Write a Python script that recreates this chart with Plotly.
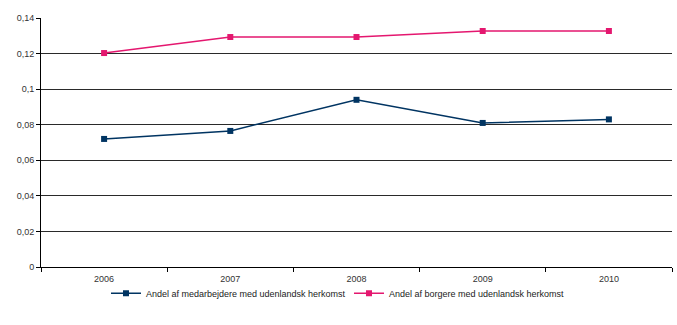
import plotly.graph_objects as go

years = ["2006", "2007", "2008", "2009", "2010"]
medarbejdere = [0.072, 0.0765, 0.094, 0.081, 0.083]
borgere = [0.1203, 0.1293, 0.1293, 0.1327, 0.1327]
y_ticks = [0, 0.02, 0.04, 0.06, 0.08, 0.1, 0.12, 0.14]
y_labels = ["0", "0,02", "0,04", "0,06", "0,08", "0,1", "0,12", "0,14"]

blue = "#003462"
pink = "#e4176f"

fig = go.Figure()
fig.add_trace(go.Scatter(
    x=years, y=medarbejdere, mode="lines+markers",
    name="Andel af medarbejdere med udenlandsk herkomst",
    line=dict(color=blue, width=1.5),
    marker=dict(symbol="square", size=6, color=blue),
))
fig.add_trace(go.Scatter(
    x=years, y=borgere, mode="lines+markers",
    name="Andel af borgere med udenlandsk herkomst",
    line=dict(color=pink, width=1.5),
    marker=dict(symbol="square", size=6, color=pink),
))

fig.update_layout(
    width=677, height=325,
    margin=dict(l=41, r=5, t=18, b=58, autoexpand=False),
    paper_bgcolor="white", plot_bgcolor="white",
    font=dict(family="Liberation Sans, Arial, sans-serif", size=9, color="#333333"),
    showlegend=True,
    legend=dict(
        orientation="h", x=0.103, xanchor="left",
        yref="container", y=0.098, yanchor="middle",
        font=dict(size=9, color="#222222"),
        itemwidth=30, entrywidth=198, entrywidthmode="pixels",
        bgcolor="rgba(0,0,0,0)",
    ),
)
fig.update_xaxes(
    type="category", range=[-0.5, 4.5], tickson="boundaries",
    ticks="outside", ticklen=4, ticklabelstandoff=3,
    tickcolor="black", showline=True, linecolor="black", linewidth=1,
    showgrid=False, tickfont=dict(size=9, color="#333333"),
)
fig.update_yaxes(
    range=[0, 0.14], tickvals=y_ticks, ticktext=y_labels,
    ticks="outside", ticklen=4, tickcolor="black",
    showline=True, linecolor="black", linewidth=1,
    showgrid=True, gridcolor="#2a2a2a", gridwidth=1,
    zeroline=False, tickfont=dict(size=9, color="#333333"),
)

fig.write_html("out.html")
